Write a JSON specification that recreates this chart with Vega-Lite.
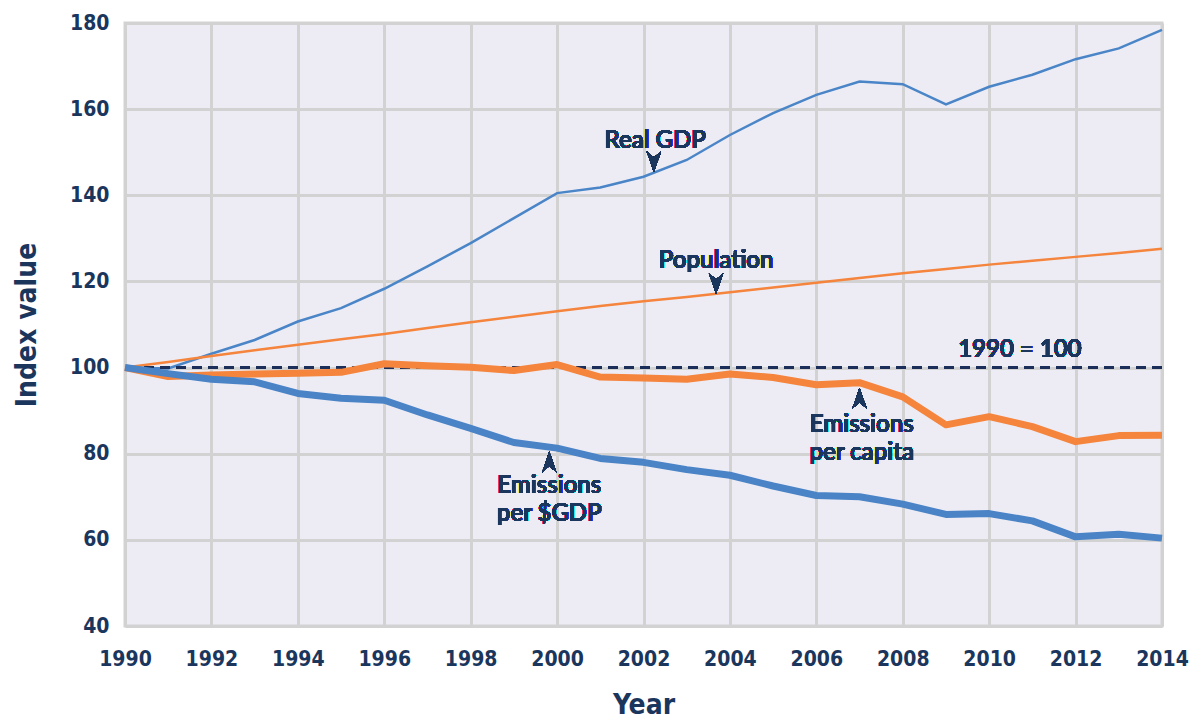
{
  "$schema": "https://vega.github.io/schema/vega-lite/v6.json",
  "autosize": "none",
  "width": 1037,
  "height": 603,
  "padding": {"left": 125, "top": 23, "right": 28, "bottom": 97},
  "background": "#ffffff",
  "config": {
    "view": {"fill": "#edecf5", "stroke": "#d3d3d3", "strokeWidth": 3},
    "axis": {
      "gridColor": "#d2d2d2", "gridWidth": 3, "gridOpacity": 1,
      "domain": false, "ticks": false,
      "labelFont": "DejaVu Sans Condensed, sans-serif",
      "labelFontSize": 21, "labelFontWeight": "bold", "labelColor": "#1b365d",
      "titleFont": "DejaVu Sans Condensed, sans-serif",
      "titleFontSize": 28, "titleFontWeight": "bold", "titleColor": "#1b365d"
    }
  },
  "data": {
    "values": [
      {"year": 1990, "series": "Real GDP", "value": 100},
      {"year": 1991, "series": "Real GDP", "value": 99.8},
      {"year": 1992, "series": "Real GDP", "value": 103.2},
      {"year": 1993, "series": "Real GDP", "value": 106.4},
      {"year": 1994, "series": "Real GDP", "value": 110.7},
      {"year": 1995, "series": "Real GDP", "value": 113.8},
      {"year": 1996, "series": "Real GDP", "value": 118.3},
      {"year": 1997, "series": "Real GDP", "value": 123.5},
      {"year": 1998, "series": "Real GDP", "value": 128.9},
      {"year": 1999, "series": "Real GDP", "value": 134.7},
      {"year": 2000, "series": "Real GDP", "value": 140.5},
      {"year": 2001, "series": "Real GDP", "value": 141.8},
      {"year": 2002, "series": "Real GDP", "value": 144.3},
      {"year": 2003, "series": "Real GDP", "value": 148.2},
      {"year": 2004, "series": "Real GDP", "value": 154.0},
      {"year": 2005, "series": "Real GDP", "value": 159.1},
      {"year": 2006, "series": "Real GDP", "value": 163.3},
      {"year": 2007, "series": "Real GDP", "value": 166.4},
      {"year": 2008, "series": "Real GDP", "value": 165.8},
      {"year": 2009, "series": "Real GDP", "value": 161.1},
      {"year": 2010, "series": "Real GDP", "value": 165.2},
      {"year": 2011, "series": "Real GDP", "value": 168.0},
      {"year": 2012, "series": "Real GDP", "value": 171.6},
      {"year": 2013, "series": "Real GDP", "value": 174.1},
      {"year": 2014, "series": "Real GDP", "value": 178.4},
      {"year": 1990, "series": "Population", "value": 100},
      {"year": 1991, "series": "Population", "value": 101.3},
      {"year": 1992, "series": "Population", "value": 102.7},
      {"year": 1993, "series": "Population", "value": 104.0},
      {"year": 1994, "series": "Population", "value": 105.3},
      {"year": 1995, "series": "Population", "value": 106.6},
      {"year": 1996, "series": "Population", "value": 107.8},
      {"year": 1997, "series": "Population", "value": 109.2},
      {"year": 1998, "series": "Population", "value": 110.5},
      {"year": 1999, "series": "Population", "value": 111.8},
      {"year": 2000, "series": "Population", "value": 113.1},
      {"year": 2001, "series": "Population", "value": 114.3},
      {"year": 2002, "series": "Population", "value": 115.4},
      {"year": 2003, "series": "Population", "value": 116.4},
      {"year": 2004, "series": "Population", "value": 117.5},
      {"year": 2005, "series": "Population", "value": 118.6},
      {"year": 2006, "series": "Population", "value": 119.7},
      {"year": 2007, "series": "Population", "value": 120.8},
      {"year": 2008, "series": "Population", "value": 121.9},
      {"year": 2009, "series": "Population", "value": 122.9},
      {"year": 2010, "series": "Population", "value": 123.9},
      {"year": 2011, "series": "Population", "value": 124.8},
      {"year": 2012, "series": "Population", "value": 125.7},
      {"year": 2013, "series": "Population", "value": 126.6},
      {"year": 2014, "series": "Population", "value": 127.6},
      {"year": 1990, "series": "Emissions per capita", "value": 100},
      {"year": 1991, "series": "Emissions per capita", "value": 97.9},
      {"year": 1992, "series": "Emissions per capita", "value": 98.3},
      {"year": 1993, "series": "Emissions per capita", "value": 98.5},
      {"year": 1994, "series": "Emissions per capita", "value": 98.7},
      {"year": 1995, "series": "Emissions per capita", "value": 98.9},
      {"year": 1996, "series": "Emissions per capita", "value": 100.9},
      {"year": 1997, "series": "Emissions per capita", "value": 100.4},
      {"year": 1998, "series": "Emissions per capita", "value": 100.1},
      {"year": 1999, "series": "Emissions per capita", "value": 99.3},
      {"year": 2000, "series": "Emissions per capita", "value": 100.7},
      {"year": 2001, "series": "Emissions per capita", "value": 97.8},
      {"year": 2002, "series": "Emissions per capita", "value": 97.6},
      {"year": 2003, "series": "Emissions per capita", "value": 97.3},
      {"year": 2004, "series": "Emissions per capita", "value": 98.5},
      {"year": 2005, "series": "Emissions per capita", "value": 97.7},
      {"year": 2006, "series": "Emissions per capita", "value": 96.0},
      {"year": 2007, "series": "Emissions per capita", "value": 96.5},
      {"year": 2008, "series": "Emissions per capita", "value": 93.2},
      {"year": 2009, "series": "Emissions per capita", "value": 86.7},
      {"year": 2010, "series": "Emissions per capita", "value": 88.6},
      {"year": 2011, "series": "Emissions per capita", "value": 86.3},
      {"year": 2012, "series": "Emissions per capita", "value": 82.8},
      {"year": 2013, "series": "Emissions per capita", "value": 84.2},
      {"year": 2014, "series": "Emissions per capita", "value": 84.3},
      {"year": 1990, "series": "Emissions per $GDP", "value": 100},
      {"year": 1991, "series": "Emissions per $GDP", "value": 98.6},
      {"year": 1992, "series": "Emissions per $GDP", "value": 97.3},
      {"year": 1993, "series": "Emissions per $GDP", "value": 96.7},
      {"year": 1994, "series": "Emissions per $GDP", "value": 94.0},
      {"year": 1995, "series": "Emissions per $GDP", "value": 92.9},
      {"year": 1996, "series": "Emissions per $GDP", "value": 92.4},
      {"year": 1997, "series": "Emissions per $GDP", "value": 89.0},
      {"year": 1998, "series": "Emissions per $GDP", "value": 85.9},
      {"year": 1999, "series": "Emissions per $GDP", "value": 82.6},
      {"year": 2000, "series": "Emissions per $GDP", "value": 81.3},
      {"year": 2001, "series": "Emissions per $GDP", "value": 78.9},
      {"year": 2002, "series": "Emissions per $GDP", "value": 78.0},
      {"year": 2003, "series": "Emissions per $GDP", "value": 76.3},
      {"year": 2004, "series": "Emissions per $GDP", "value": 75.0},
      {"year": 2005, "series": "Emissions per $GDP", "value": 72.5},
      {"year": 2006, "series": "Emissions per $GDP", "value": 70.3},
      {"year": 2007, "series": "Emissions per $GDP", "value": 70.0},
      {"year": 2008, "series": "Emissions per $GDP", "value": 68.3},
      {"year": 2009, "series": "Emissions per $GDP", "value": 65.9},
      {"year": 2010, "series": "Emissions per $GDP", "value": 66.1},
      {"year": 2011, "series": "Emissions per $GDP", "value": 64.4},
      {"year": 2012, "series": "Emissions per $GDP", "value": 60.7},
      {"year": 2013, "series": "Emissions per $GDP", "value": 61.3},
      {"year": 2014, "series": "Emissions per $GDP", "value": 60.4}
    ]
  },
  "encoding": {
    "x": {
      "field": "year", "type": "quantitative",
      "scale": {"domain": [1990, 2014], "nice": false, "zero": false},
      "axis": {"values": [1990,1992,1994,1996,1998,2000,2002,2004,2006,2008,2010,2012,2014], "format": "d", "labelPadding": 22, "title": "Year", "titlePadding": 22, "labelFlush": false}
    },
    "y": {
      "field": "value", "type": "quantitative",
      "scale": {"domain": [40, 180], "nice": false, "zero": false},
      "axis": {"values": [40,60,80,100,120,140,160,180], "labelPadding": 16, "title": "Index value", "titlePadding": 28}
    }
  },
  "layer": [
    {
      "transform": [{"filter": "datum.series === 'Real GDP' || datum.series === 'Population'"}],
      "mark": {"type": "line", "strokeWidth": 2.5},
      "encoding": {
        "color": {"field": "series", "type": "nominal", "scale": {"domain": ["Real GDP", "Population", "Emissions per capita", "Emissions per $GDP"], "range": ["#4a85c7", "#f5843c", "#f5843c", "#4a83c6"]}, "legend": null}
      }
    },
    {
      "mark": {"type": "rule", "color": "#1b2f5a", "strokeWidth": 2.5, "strokeDash": [10, 6]},
      "encoding": {"y": {"datum": 100}, "x": null}
    },
    {
      "transform": [{"filter": "datum.series === 'Emissions per capita' || datum.series === 'Emissions per $GDP'"}],
      "mark": {"type": "line", "strokeWidth": 7, "strokeJoin": "round"},
      "encoding": {
        "color": {"field": "series", "type": "nominal", "scale": {"domain": ["Real GDP", "Population", "Emissions per capita", "Emissions per $GDP"], "range": ["#4a85c7", "#f5843c", "#f5843c", "#4a83c6"]}, "legend": null}
      }
    },
    {
      "mark": {"type": "text", "text": "Real GDP", "font": "Lato", "fontSize": 24, "fontWeight": 600, "color": "#1b365d", "align": "center", "baseline": "alphabetic"},
      "encoding": {"x": {"datum": 2002.27}, "y": {"datum": 151.0}}
    },
    {
      "mark": {"type": "text", "text": "Population", "font": "Lato", "fontSize": 24, "fontWeight": 600, "color": "#1b365d", "align": "center", "baseline": "alphabetic"},
      "encoding": {"x": {"datum": 2003.68}, "y": {"datum": 123.1}}
    },
    {
      "mark": {"type": "text", "text": "1990 = 100", "font": "Lato", "fontSize": 24, "fontWeight": 600, "color": "#1b365d", "align": "center", "baseline": "alphabetic"},
      "encoding": {"x": {"datum": 2010.71}, "y": {"datum": 102.5}}
    },
    {
      "mark": {"type": "text", "text": ["Emissions", "per capita"], "lineHeight": 28, "font": "Lato", "fontSize": 24, "fontWeight": 600, "color": "#1b365d", "align": "center", "baseline": "alphabetic"},
      "encoding": {"x": {"datum": 2007.05}, "y": {"datum": 85.1}}
    },
    {
      "mark": {"type": "text", "text": ["Emissions", "per $GDP"], "lineHeight": 28, "font": "Lato", "fontSize": 24, "fontWeight": 600, "color": "#1b365d", "align": "center", "baseline": "alphabetic"},
      "encoding": {"x": {"datum": 1999.82}, "y": {"datum": 70.8}}
    },
    {
      "mark": {"type": "point", "shape": "M-0.7,-1L0,1L0.7,-1L0,-0.4Z", "size": 420, "filled": true, "opacity": 1, "color": "#1b365d"},
      "encoding": {"x": {"datum": 2002.24}, "y": {"datum": 147.8}}
    },
    {
      "mark": {"type": "point", "shape": "M-0.7,-1L0,1L0.7,-1L0,-0.4Z", "size": 420, "filled": true, "opacity": 1, "color": "#1b365d"},
      "encoding": {"x": {"datum": 2003.68}, "y": {"datum": 119.5}}
    },
    {
      "mark": {"type": "point", "shape": "M-0.7,1L0,-1L0.7,1L0,0.4Z", "size": 420, "filled": true, "opacity": 1, "color": "#1b365d"},
      "encoding": {"x": {"datum": 2007.0}, "y": {"datum": 92.9}}
    },
    {
      "mark": {"type": "point", "shape": "M-0.7,1L0,-1L0.7,1L0,0.4Z", "size": 420, "filled": true, "opacity": 1, "color": "#1b365d"},
      "encoding": {"x": {"datum": 1999.82}, "y": {"datum": 78.1}}
    }
  ]
}
